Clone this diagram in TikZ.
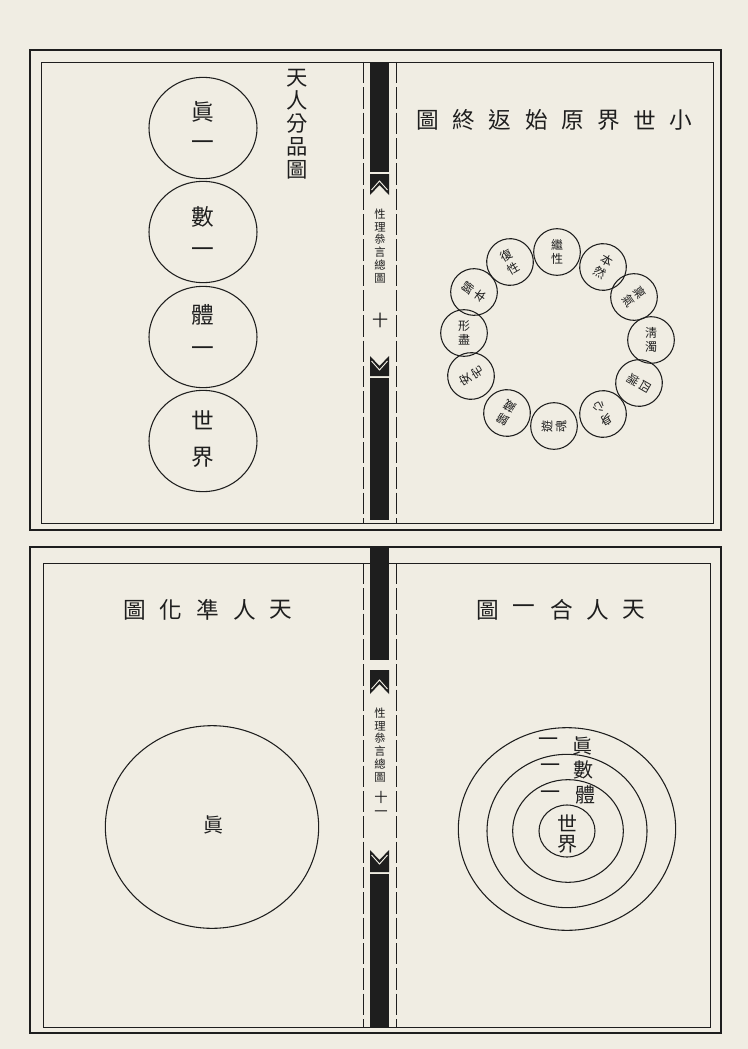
\documentclass[tikz,border=0pt]{standalone}
\usepackage{fontspec}
\newfontfamily\cjk{Noto Sans CJK TC}
\usetikzlibrary{shapes.geometric}
\definecolor{paper}{RGB}{240,237,227}
\definecolor{ink}{RGB}{30,30,30}
\begin{document}
\begin{tikzpicture}[x=0.75pt,y=-0.75pt,
  outerframe/.style={draw=ink,line width=1.8pt},
  innerframe/.style={draw=ink,line width=0.7pt},
  colline/.style={draw=ink,line width=0.6pt,dash pattern=on 16pt off 3pt},
  band/.style={fill=ink},
  ell/.style={ellipse,draw=ink,line width=0.8pt,inner sep=0pt},
  big/.style={font=\cjk\fontsize{17}{17}\selectfont,text=ink,inner sep=0pt},
  title/.style={font=\cjk\fontsize{17}{17}\selectfont,text=ink,inner sep=0pt},
  small/.style={font=\cjk\fontsize{8.5}{9.6}\selectfont,text=ink,inner sep=0pt,align=center},
  ringtxt/.style={font=\cjk\fontsize{9}{10.5}\selectfont,text=ink,align=center},
  mid/.style={font=\cjk\fontsize{15}{15}\selectfont,text=ink,inner sep=0pt}
]
\fill[paper] (0,0) rectangle (748,1049);
\useasboundingbox (0,0) rectangle (748,1049);

% ---------- frames ----------
\draw[outerframe] (30,50) rectangle (721,530);
\draw[innerframe] (41,62) rectangle (713,523);
\draw[outerframe] (30,547) rectangle (721,1033);
\draw[innerframe] (43,563) rectangle (710,1027);

% ---------- central column, top ----------
\draw[colline] (363,62) -- (363,523);
\draw[colline] (396,62) -- (396,523);
\fill[band] (370,62) rectangle (389,172);
\fill[band] (370,174) -- (389,174) -- (389,195) -- (379.5,185) -- (370,195) -- cycle;
\draw[paper,line width=0.7pt] (371.5,190) -- (379.5,181) -- (387.5,190);
\fill[band] (370,356) -- (379.5,366) -- (389,356) -- (389,376) -- (370,376) -- cycle;
\draw[paper,line width=0.7pt] (371.5,361) -- (379.5,370) -- (387.5,361);
\fill[band] (370,378) rectangle (389,520);
\node[small] (ct1) at (380,246) {性\\理\\叅\\言\\總\\圖};
\node[font=\cjk\fontsize{12}{12}\selectfont,text=ink,inner sep=0pt] (pn1) at (380,320) {十};

% ---------- central column, bottom ----------
\draw[colline] (363,563) -- (363,1027);
\draw[colline] (396,563) -- (396,1027);
\fill[band] (370,547) rectangle (389,660);
\fill[band] (370,670) -- (389,670) -- (389,694) -- (379.5,684) -- (370,694) -- cycle;
\draw[paper,line width=0.7pt] (371.5,689) -- (379.5,680) -- (387.5,689);
\fill[band] (370,850) -- (379.5,860) -- (389,850) -- (389,872) -- (370,872) -- cycle;
\draw[paper,line width=0.7pt] (371.5,855) -- (379.5,864) -- (387.5,855);
\fill[band] (370,874) rectangle (389,1027);
\node[small] (ct2) at (380,745) {性\\理\\叅\\言\\總\\圖};
\node[font=\cjk\fontsize{10}{10}\selectfont,text=ink,inner sep=0pt,align=center] (pn2) at (381,804) {十\\一};

% ---------- top-left: 天人分品圖 ----------
\node[title,align=center,font=\cjk\fontsize{16}{17.2}\selectfont] (tl) at (297,124) {天\\人\\分\\品\\圖};
\node[ell,minimum width=81pt,minimum height=76pt] (c1) at (203,128) {};
\node[ell,minimum width=81pt,minimum height=76pt] (c2) at (203,232) {};
\node[ell,minimum width=81pt,minimum height=76pt] (c3) at (203,337) {};
\node[ell,minimum width=81pt,minimum height=76pt] (c4) at (203,441) {};
\node[big] (c1a) at (203,112) {眞};
\node[big] (c1b) at (203,146) {一};
\node[big] (c2a) at (203,217) {數};
\node[big] (c2b) at (203,253) {一};
\node[big] (c3a) at (203,315) {體};
\node[big] (c3b) at (203,352) {一};
\node[big] (c4a) at (203,420) {世};
\node[big] (c4b) at (203,457) {界};

% ---------- top-right: 小世界原始返終圖 ----------
\node[title] (r1) at (428,120) {圖};
\node[title] (r2) at (464,120) {終};
\node[title] (r3) at (500,120) {返};
\node[title] (r4) at (537,120) {始};
\node[title] (r5) at (573,120) {原};
\node[title] (r6) at (609,120) {界};
\node[title] (r7) at (645,120) {世};
\node[title] (r8) at (681,120) {小};

\foreach \n/\x/\y/\r/\t in {
  s1/557/252/0/{繼\\性},
  s2/603/267/-30/{本\\然},
  s3/634/297/-55/{稟\\氣},
  s4/651/340/0/{淸\\濁},
  s5/639/383/-120/{四\\端},
  s6/603/414/-150/{身\\心},
  s7/554/426/90/{遊\\魂},
  s8/507/413/150/{歸\\藏},
  s9/471/376/120/{安\\宅},
  s10/464/333/0/{形\\盡},
  s11/474/292/55/{歸\\本},
  s12/510/262/30/{復\\性}}{
  \node[ell,ringtxt,minimum width=35pt,minimum height=35pt,rotate=\r] (\n) at (\x,\y) {\t};
}

% ---------- bottom-left: 天人凖化圖 ----------
\node[title] (b1) at (135,610) {圖};
\node[title] (b2) at (171,610) {化};
\node[title] (b3) at (208,610) {凖};
\node[title] (b4) at (245,610) {人};
\node[title] (b5) at (281,610) {天};
\node[ell,minimum width=160pt,minimum height=152pt] (bc) at (212,827) {};
\node[mid] (bct) at (213,825) {眞};

% ---------- bottom-right: 天人合一圖 ----------
\node[title] (d1) at (488,610) {圖};
\node[title] (d2) at (524,610) {一};
\node[title] (d3) at (562,610) {合};
\node[title] (d4) at (598,610) {人};
\node[title] (d5) at (634,610) {天};
\node[ell,minimum width=163pt,minimum height=152pt] (o1) at (567,829) {};
\node[ell,minimum width=120pt,minimum height=115pt] (o2) at (567,831) {};
\node[ell,minimum width=83pt,minimum height=77pt] (o3) at (568,831) {};
\node[ell,minimum width=42pt,minimum height=39pt] (o4) at (567,831) {};
\node[mid] (k1) at (582,746) {眞};
\node[mid] (k2) at (583,770) {數};
\node[mid] (k3) at (585,795) {體};
\node[mid] (k4) at (567,823) {世};
\node[mid] (k5) at (567,844) {界};
\node[mid] (j1) at (548,742) {一};
\node[mid] (j2) at (550,768) {一};
\node[mid] (j3) at (550,795) {一};
\end{tikzpicture}
\end{document}
